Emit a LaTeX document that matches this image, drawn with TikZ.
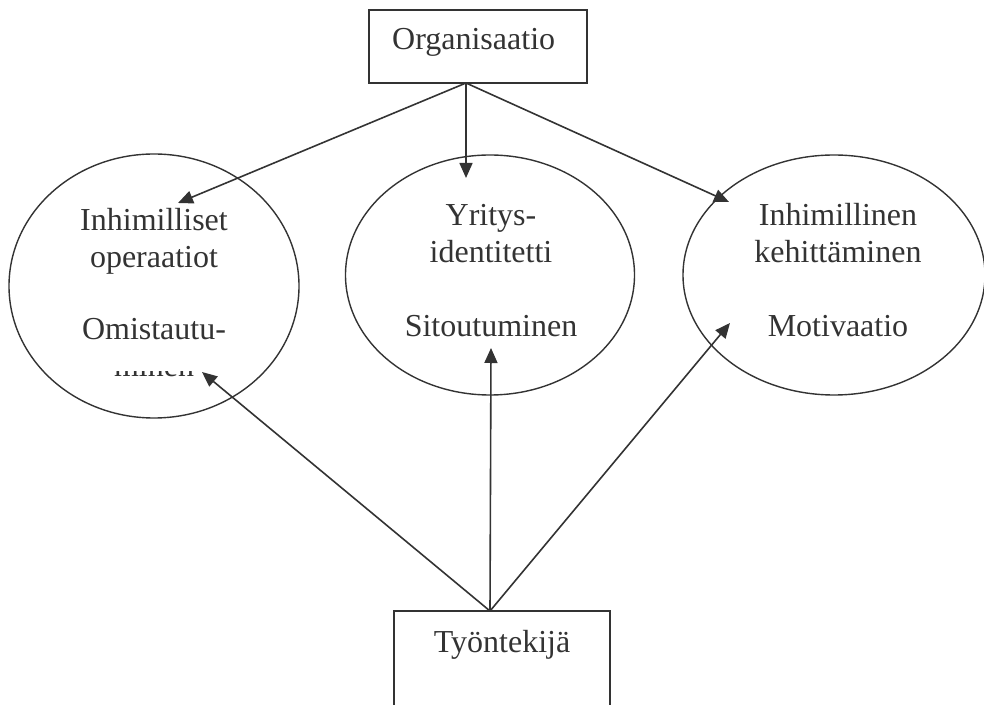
\documentclass[tikz,border=0pt]{standalone}
\usepackage{fontspec}
\setmainfont{Liberation Serif}
\usetikzlibrary{positioning,arrows.meta,shapes.geometric}
\definecolor{cInk}{HTML}{333333}

\begin{document}
\begin{tikzpicture}[
    x=1pt, y=1pt,
    font=\fontsize{32}{37}\selectfont,
    text=cInk,
    box/.style={draw=cInk, line width=1.6pt, rectangle, inner sep=0pt},
    oval/.style={draw=cInk, line width=1.4pt, ellipse, inner sep=0pt},
    lbl/.style={anchor=base, inner sep=0pt, align=center},
    arr/.style={-{Triangle[length=15pt, width=13pt]}, line width=1.6pt, cInk}
]
\useasboundingbox (0,0) rectangle (984,704);
\clip (0,0) rectangle (984,704);

% boxes
\node[box, minimum width=218pt, minimum height=73pt] (org) at (478,657.5) {};
\node[anchor=base west, inner sep=0pt] (orgtxt) at (392,654) {Organisaatio};
\node[box, minimum width=216pt, minimum height=120pt] (worker) at (502,33) {};
\node[lbl] (workertxt) at (502,52) {Työntekijä};

% ellipses
\node[oval, minimum width=290pt, minimum height=264pt] (human) at (154,418) {};
\node[oval, minimum width=289pt, minimum height=240pt] (ident) at (490,429) {};
\node[oval, minimum width=302pt, minimum height=240pt] (devel) at (834,429) {};

% texts (base = last line)
\node[lbl] (humantxt) at (154,436) {Inhimilliset\\operaatiot};
\node[lbl] (humantxt2) at (154,364) {Omistautu-};
\begin{scope}
  \clip (0,332) rectangle (310,300);
  \node[lbl] (humantxt3) at (154,327) {minen};
\end{scope}
\node[lbl] (identtxt) at (491,441) {Yritys-\\identitetti};
\node[lbl] (identtxt2) at (491,367) {Sitoutuminen};
\node[lbl] (develtxt) at (838,441) {Inhimillinen\\kehittäminen};
\node[lbl] (develtxt2) at (838,367) {Motivaatio};

% arrow ends
\coordinate (orgfoot) at (466,621);
\coordinate (workertop) at (490,93);
\coordinate (humanin) at (178,501);
\coordinate (identin) at (466,526);
\coordinate (develin) at (729,502);
\coordinate (humanout) at (202,332);
\coordinate (identout) at (491,356);
\coordinate (develout) at (730,381);

\draw[arr] (orgfoot) -- (humanin);
\draw[arr] (orgfoot) -- (identin);
\draw[arr] (orgfoot) -- (develin);
\draw[arr] (workertop) -- (humanout);
\draw[arr] (workertop) -- (identout);
\draw[arr] (workertop) -- (develout);
\end{tikzpicture}
\end{document}
